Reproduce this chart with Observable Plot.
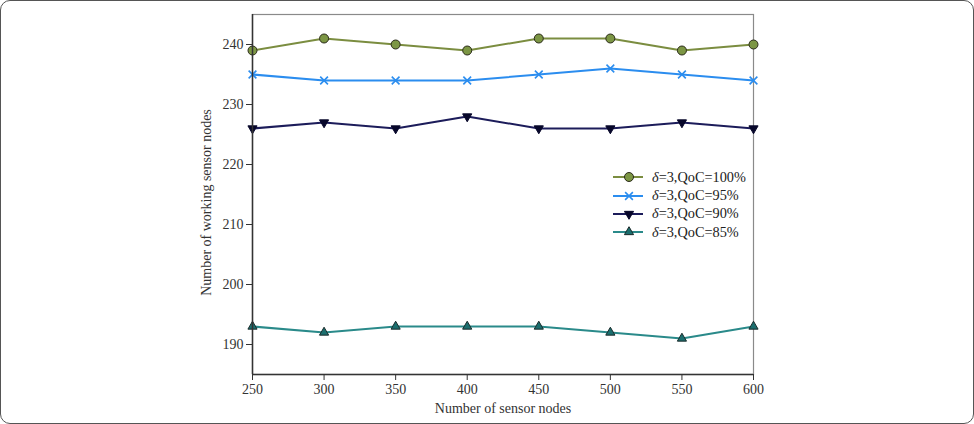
<!DOCTYPE html>
<html>
<head>
<meta charset="utf-8">
<script src="https://cdn.jsdelivr.net/npm/d3@7"></script>
<script src="https://cdn.jsdelivr.net/npm/@observablehq/plot@0.6"></script>
<style>
  html, body { margin: 0; padding: 0; background: #fff; }
  #wrap { position: relative; width: 974px; height: 424px; overflow: hidden; font-family: "Liberation Serif", "Times New Roman", serif; }
  #border { position: absolute; left: 0; top: 0; width: 974px; height: 424px; box-sizing: border-box; border: 1.5px solid #555; border-radius: 10px; pointer-events: none; }
  #legend { position: absolute; left: 610px; top: 168px; font-family: "Liberation Serif", serif; font-size: 14.3px; color: #222; }
  #legend .row { display: flex; align-items: center; height: 18.4px; white-space: nowrap; }
  #legend svg { display: block; margin-right: 6px; }
  #legend i { font-style: italic; }
</style>
</head>
<body>
<div id="wrap"><div id="chart"></div><div id="legend"></div><div id="border"></div></div>
<script>
const sensorNodes = [250, 300, 350, 400, 450, 500, 550, 600];
const qoc100 = [239, 241, 240, 239, 241, 241, 239, 240];
const qoc95  = [235, 234, 234, 234, 235, 236, 235, 234];
const qoc90  = [226, 227, 226, 228, 226, 226, 227, 226];
const qoc85  = [193, 192, 193, 193, 193, 192, 191, 193];
const seriesLabels = ["QoC=100%", "QoC=95%", "QoC=90%", "QoC=85%"];
const xTicks = [250, 300, 350, 400, 450, 500, 550, 600];
const yTicks = [190, 200, 210, 220, 230, 240];

const triDown = {
  draw(ctx, size) {
    const y = -Math.sqrt(size / (3 * Math.sqrt(3)));
    const s3 = Math.sqrt(3);
    ctx.moveTo(0, -2 * y);
    ctx.lineTo(-s3 * y, y);
    ctx.lineTo(s3 * y, y);
    ctx.closePath();
  }
};

const styles = [
  {values: qoc100, line: "#7b8d40", fill: "#7c9644", stroke: "#2a2a1a", symbol: "circle", r: 4.5, sw: 1},
  {values: qoc95,  line: "#2b8def", fill: "none",    stroke: "#2b8def", symbol: "times",  r: 3.6, sw: 1.6},
  {values: qoc90,  line: "#1c1c5a", fill: "#07072a", stroke: "#07072a", symbol: triDown,  r: 3.4, sw: 1},
  {values: qoc85,  line: "#2a8a8a", fill: "#1b6e6e", stroke: "#1a2a2a", symbol: "triangle", r: 3.4, sw: 1}
];

const marks = [Plot.frame({stroke: "#8a8a8a", strokeWidth: 1.2})];
styles.forEach((s) => {
  const rows = sensorNodes.map((x, i) => ({x, y: s.values[i]}));
  marks.push(Plot.line(rows, {x: "x", y: "y", stroke: s.line, strokeWidth: 2}));
  marks.push(Plot.dot(rows, {x: "x", y: "y", symbol: () => s.symbol, r: s.r, fill: s.fill, stroke: s.stroke, strokeWidth: s.sw}));
});
marks.push(
  Plot.ruleX([250], {stroke: "#333", strokeWidth: 1.5}),
  Plot.ruleY([185], {stroke: "#333", strokeWidth: 1.5}),
  Plot.axisX({ticks: xTicks, tickSize: 6, tickPadding: 4, label: null, stroke: "#333", fill: "#333", fontSize: 14}),
  Plot.axisY({ticks: yTicks, tickSize: 6, tickPadding: 3, label: null, stroke: "#333", fill: "#333", fontSize: 14}),
  Plot.text(["Number of sensor nodes"], {frameAnchor: "bottom", dy: 38, fill: "#333", fontSize: 14}),
  Plot.text(["Number of working sensor nodes"], {frameAnchor: "left", textAnchor: "middle", dx: -46, dy: 8, rotate: -90, fill: "#333", fontSize: 14})
);

const chart = Plot.plot({
  width: 974,
  height: 424,
  marginLeft: 252,
  marginRight: 221,
  marginTop: 14,
  marginBottom: 50,
  x: {domain: [250, 600]},
  y: {domain: [185, 245]},
  style: {fontFamily: "Liberation Serif, Times New Roman, serif", fontSize: "14px", background: "#fff"},
  marks
});
document.getElementById("chart").appendChild(chart);

// legend
const legend = document.getElementById("legend");
styles.forEach((s, i) => {
  const row = document.createElement("div");
  row.className = "row";
  const svg = d3.create("svg").attr("width", 36).attr("height", 16);
  svg.append("line").attr("x1", 3).attr("x2", 33).attr("y1", 8).attr("y2", 8).attr("stroke", s.line).attr("stroke-width", 2);
  const symType = s.symbol === "circle" ? d3.symbolCircle : s.symbol === "times" ? d3.symbolTimes : s.symbol === "triangle" ? d3.symbolTriangle : s.symbol;
  svg.append("path").attr("transform", "translate(19,8)")
    .attr("d", d3.symbol(symType, Math.PI * s.r * s.r)())
    .attr("fill", s.fill).attr("stroke", s.stroke).attr("stroke-width", s.sw);
  row.appendChild(svg.node());
  const span = document.createElement("span");
  span.innerHTML = "<i>δ</i>=3," + seriesLabels[i];
  row.appendChild(span);
  legend.appendChild(row);
});
</script>
</body>
</html>
